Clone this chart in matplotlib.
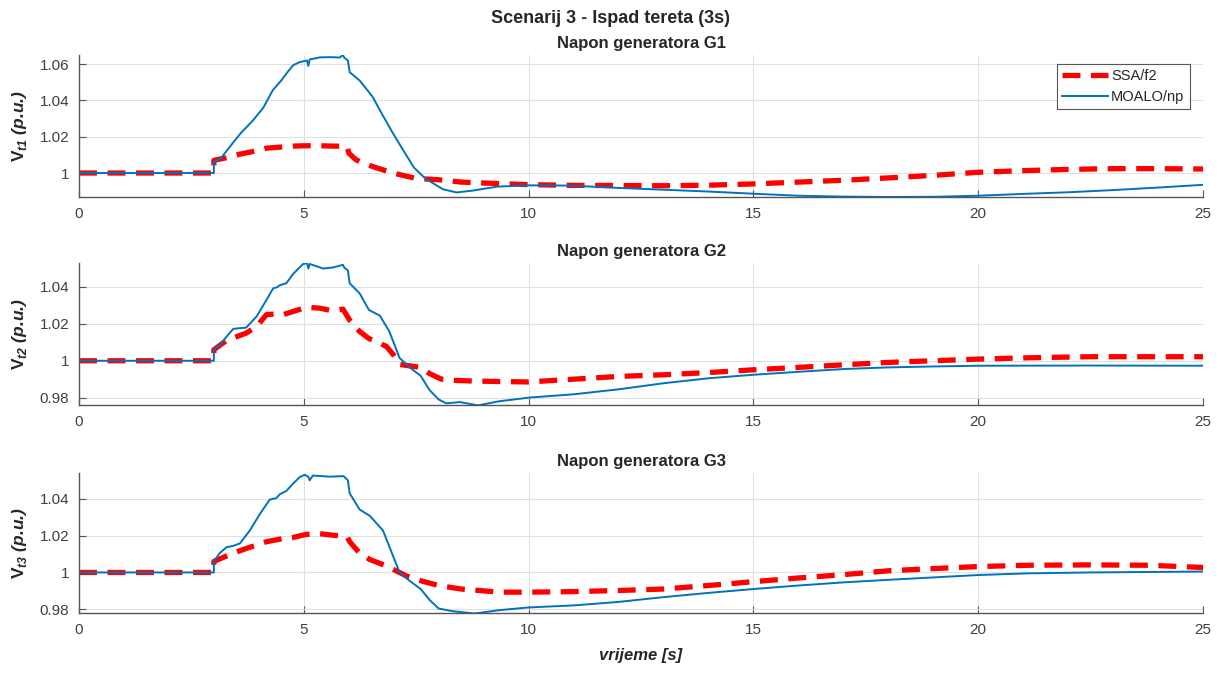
"""Scenarij 3 - napon generatora G1..G3, SSA/f2 vs MOALO/np."""
import matplotlib
matplotlib.use("Agg")
import matplotlib.pyplot as plt
from matplotlib.ticker import FormatStrFormatter

plt.rcParams["font.family"] = ["Liberation Sans", "DejaVu Sans"]
plt.rcParams["mathtext.fontset"] = "custom"
plt.rcParams["mathtext.rm"] = "Liberation Sans"
plt.rcParams["mathtext.bf"] = "Liberation Sans:bold"
plt.rcParams["mathtext.bfit"] = "Liberation Sans:bold:italic"

# ---- G1 ----
t_g1_moalo = [0, 3.0, 3.0, 3.15, 3.42, 3.6, 3.87, 4.1, 4.31, 4.5, 4.62, 4.76, 4.9,
              5.07, 5.1, 5.13, 5.36, 5.6, 5.8, 5.87, 5.9, 5.98, 6.02, 6.24, 6.53,
              6.75, 6.98, 7.2, 7.45, 7.7, 7.9, 8.1, 8.4, 8.75, 9.3, 10, 10.5, 11,
              12, 13, 14, 15, 16, 17, 18, 19, 20, 21, 22, 23, 24, 25]
v_g1_moalo = [1.0, 1.0, 1.006, 1.008, 1.0165, 1.022, 1.029, 1.036, 1.0456, 1.051,
              1.055, 1.0593, 1.061, 1.062, 1.059, 1.0625, 1.0637, 1.0638, 1.0636,
              1.065, 1.0635, 1.062, 1.0555, 1.051, 1.042, 1.032, 1.022, 1.013,
              1.003, 0.997, 0.994, 0.991, 0.9893, 0.9903, 0.9925, 0.9932, 0.9932,
              0.993, 0.9918, 0.9908, 0.9898, 0.9886, 0.9875, 0.987, 0.9868, 0.9869,
              0.9875, 0.9885, 0.9894, 0.9906, 0.992, 0.9935]
t_g1_ssa = [0, 3.0, 3.0, 3.3, 3.58, 3.9, 4.17, 4.5, 4.76, 5.0, 5.36, 5.7, 5.96, 6.0,
            6.15, 6.31, 6.6, 6.98, 7.5, 8.0, 8.5, 9.0, 10, 11, 12, 13, 14, 15, 16,
            17, 18, 19, 20, 21, 22, 23, 24, 25]
v_g1_ssa = [1.0, 1.0, 1.007, 1.0085, 1.0104, 1.012, 1.0137, 1.0143, 1.0148, 1.015,
            1.015, 1.0148, 1.0148, 1.011, 1.0075, 1.0055, 1.003, 1.0, 0.997, 0.9963,
            0.995, 0.9945, 0.9936, 0.9932, 0.9931, 0.993, 0.9933, 0.994, 0.995,
            0.996, 0.9973, 0.9987, 1.0004, 1.0013, 1.002, 1.0024, 1.0024, 1.0022]

# ---- G2 ----
t_g2_moalo = [0, 3.0, 3.0, 3.15, 3.28, 3.43, 3.72, 3.95, 4.17, 4.32, 4.4, 4.47, 4.61,
              4.76, 4.98, 5.07, 5.1, 5.13, 5.43, 5.65, 5.87, 5.9, 5.98, 6.02, 6.24,
              6.45, 6.69, 6.9, 7.13, 7.35, 7.6, 7.8, 8.0, 8.17, 8.47, 8.87, 9.34, 10,
              11, 12, 13, 14, 15, 16, 17, 18, 19, 20, 22.5, 25]
v_g2_moalo = [1.0, 1.0, 1.006, 1.009, 1.013, 1.0173, 1.018, 1.024, 1.033, 1.0393,
              1.0398, 1.041, 1.042, 1.047, 1.0524, 1.053, 1.050, 1.0525, 1.050,
              1.0506, 1.052, 1.0505, 1.049, 1.042, 1.0366, 1.0275, 1.0245, 1.016,
              1.0015, 0.9965, 0.9918, 0.984, 0.979, 0.9769, 0.9776, 0.9758, 0.978,
              0.98, 0.9818, 0.9845, 0.9878, 0.9905, 0.9924, 0.994, 0.9955, 0.9964,
              0.9969, 0.9973, 0.9974, 0.9973]
t_g2_ssa = [0, 3.0, 3.0, 3.28, 3.5, 3.72, 3.95, 4.17, 4.39, 4.54, 4.76, 5.06, 5.36,
            5.65, 5.87, 6.02, 6.24, 6.45, 6.61, 6.84, 7.0, 7.13, 7.6, 7.8, 8.06, 8.4,
            8.76, 9.45, 10, 11, 12, 13, 14, 15, 16, 17, 18, 19, 20, 21.1, 22.5, 25]
v_g2_ssa = [1.0, 1.0, 1.006, 1.011, 1.013, 1.015, 1.0186, 1.025, 1.0254, 1.025,
            1.0267, 1.029, 1.0285, 1.027, 1.028, 1.022, 1.0159, 1.012, 1.0105,
            1.0077, 1.003, 0.998, 0.9964, 0.993, 0.990, 0.9893, 0.989, 0.9887,
            0.9885, 0.990, 0.9915, 0.9924, 0.9936, 0.9951, 0.9964, 0.9978, 0.9991,
            1.0, 1.0009, 1.0016, 1.0022, 1.0022]

# ---- G3 ----
t_g3_moalo = [0, 3.0, 3.0, 3.13, 3.28, 3.43, 3.58, 3.8, 4.02, 4.24, 4.39, 4.47, 4.61,
              4.76, 4.91, 5.02, 5.1, 5.13, 5.2, 5.58, 5.87, 5.9, 5.98, 6.02, 6.24,
              6.47, 6.76, 7.13, 7.35, 7.6, 7.8, 8.0, 8.3, 8.8, 9.34, 10, 11, 12, 13,
              14, 15, 16, 17, 18, 19, 20, 21.1, 22.5, 25]
v_g3_moalo = [1.0, 1.0, 1.006, 1.0105, 1.0137, 1.0144, 1.0158, 1.0228, 1.0316,
              1.0395, 1.0404, 1.0425, 1.0442, 1.0482, 1.0518, 1.053, 1.052, 1.050,
              1.0526, 1.052, 1.0523, 1.052, 1.05, 1.043, 1.0342, 1.0307, 1.0228, 1.0,
              0.9955, 0.991, 0.985, 0.9804, 0.979, 0.9777, 0.9795, 0.981, 0.9821,
              0.984, 0.9866, 0.9889, 0.991, 0.9929, 0.9946, 0.996, 0.9973, 0.9986,
              0.9995, 1.0, 1.0005]
t_g3_ssa = [0, 3.0, 3.0, 3.43, 3.72, 4.17, 4.54, 4.76, 5.06, 5.36, 5.65, 5.96, 6.02,
            6.24, 6.47, 6.84, 7.29, 7.6, 8.0, 8.5, 9.34, 10, 11, 12, 13, 14, 15, 16,
            17, 18, 19, 20, 21.1, 22.5, 23.8, 25]
v_g3_ssa = [1.0, 1.0, 1.006, 1.0105, 1.013, 1.0167, 1.0184, 1.019, 1.0207, 1.021,
            1.0202, 1.0196, 1.0167, 1.0105, 1.007, 1.0035, 0.998, 0.9955, 0.9929,
            0.991, 0.9893, 0.9893, 0.9896, 0.9902, 0.991, 0.9929, 0.995, 0.997,
            0.9988, 1.0009, 1.0021, 1.0032, 1.0039, 1.0041, 1.0039, 1.0027]

titles = ["Napon generatora G1", "Napon generatora G2", "Napon generatora G3"]
ylabels = [r"$\mathbf{V}_{\mathbfit{t1}}$ (p.u.)",
           r"$\mathbf{V}_{\mathbfit{t2}}$ (p.u.)",
           r"$\mathbf{V}_{\mathbfit{t3}}$ (p.u.)"]
yticks = [[1.0, 1.02, 1.04, 1.06], [0.98, 1.0, 1.02, 1.04], [0.98, 1.0, 1.02, 1.04]]
ylims = [(0.9868, 1.065), (0.976, 1.053), (0.978, 1.054)]
xticks = [0, 5, 10, 15, 20, 25]

series = [
    (t_g1_ssa, v_g1_ssa, t_g1_moalo, v_g1_moalo),
    (t_g2_ssa, v_g2_ssa, t_g2_moalo, v_g2_moalo),
    (t_g3_ssa, v_g3_ssa, t_g3_moalo, v_g3_moalo),
]

TXT = "#404040"
SPINE = "#555555"
RED = "#ff0000"
BLUE = "#0072bd"

fig = plt.figure(figsize=(12.21, 6.73), dpi=100)
boxes = [(0.0647, 0.7073, 0.9206, 0.211),
         (0.0647, 0.3982, 0.9206, 0.211),
         (0.0647, 0.0892, 0.9206, 0.208)]

for i, (ts, vs, tm, vm) in enumerate(series):
    ax = fig.add_axes(boxes[i])
    ax.plot(ts, vs, color=RED, lw=3.8, dashes=(3.4, 2.0), label="SSA/f2")
    ax.plot(tm, vm, color=BLUE, lw=1.4, label="MOALO/np")
    ax.set_xlim(0, 25)
    ax.set_ylim(*ylims[i])
    ax.set_xticks(xticks)
    ax.set_yticks(yticks[i])
    ax.yaxis.set_major_formatter(FormatStrFormatter("%g"))
    ax.grid(True, color="#e0e0e0", lw=0.8)
    ax.set_axisbelow(True)
    for s in ("top", "right"):
        ax.spines[s].set_visible(False)
    for s in ("left", "bottom"):
        ax.spines[s].set_color(SPINE)
        ax.spines[s].set_linewidth(1.0)
    ax.tick_params(direction="in", length=5, color=SPINE, labelcolor=TXT,
                   labelsize=11, pad=7)
    ax.set_title(titles[i], fontsize=12, fontweight="bold", color="#262626", pad=5)
    ax.set_ylabel(ylabels[i], fontsize=12.5, fontweight="bold", style="italic",
                  color="#262626", labelpad=8)
    if i == 0:
        leg = ax.legend(loc="upper right", bbox_to_anchor=(0.988, 0.935), fontsize=10.5,
                        frameon=True, fancybox=False, framealpha=1.0,
                        handlelength=3.2, borderpad=0.35, labelspacing=0.45,
                        handletextpad=0.2, borderaxespad=0.0)
        leg.get_frame().set_edgecolor("#555555")
        leg.get_frame().set_linewidth(0.8)
        for txt in leg.get_texts():
            txt.set_color("#262626")
    if i == 2:
        ax.set_xlabel("vrijeme [s]", fontsize=12, fontweight="bold", style="italic",
                      color="#262626", labelpad=8)

fig.suptitle("Scenarij 3 - Ispad tereta (3s)", fontsize=13, fontweight="bold",
             color="#262626", y=0.985)
fig.savefig("out.png", dpi=100)
